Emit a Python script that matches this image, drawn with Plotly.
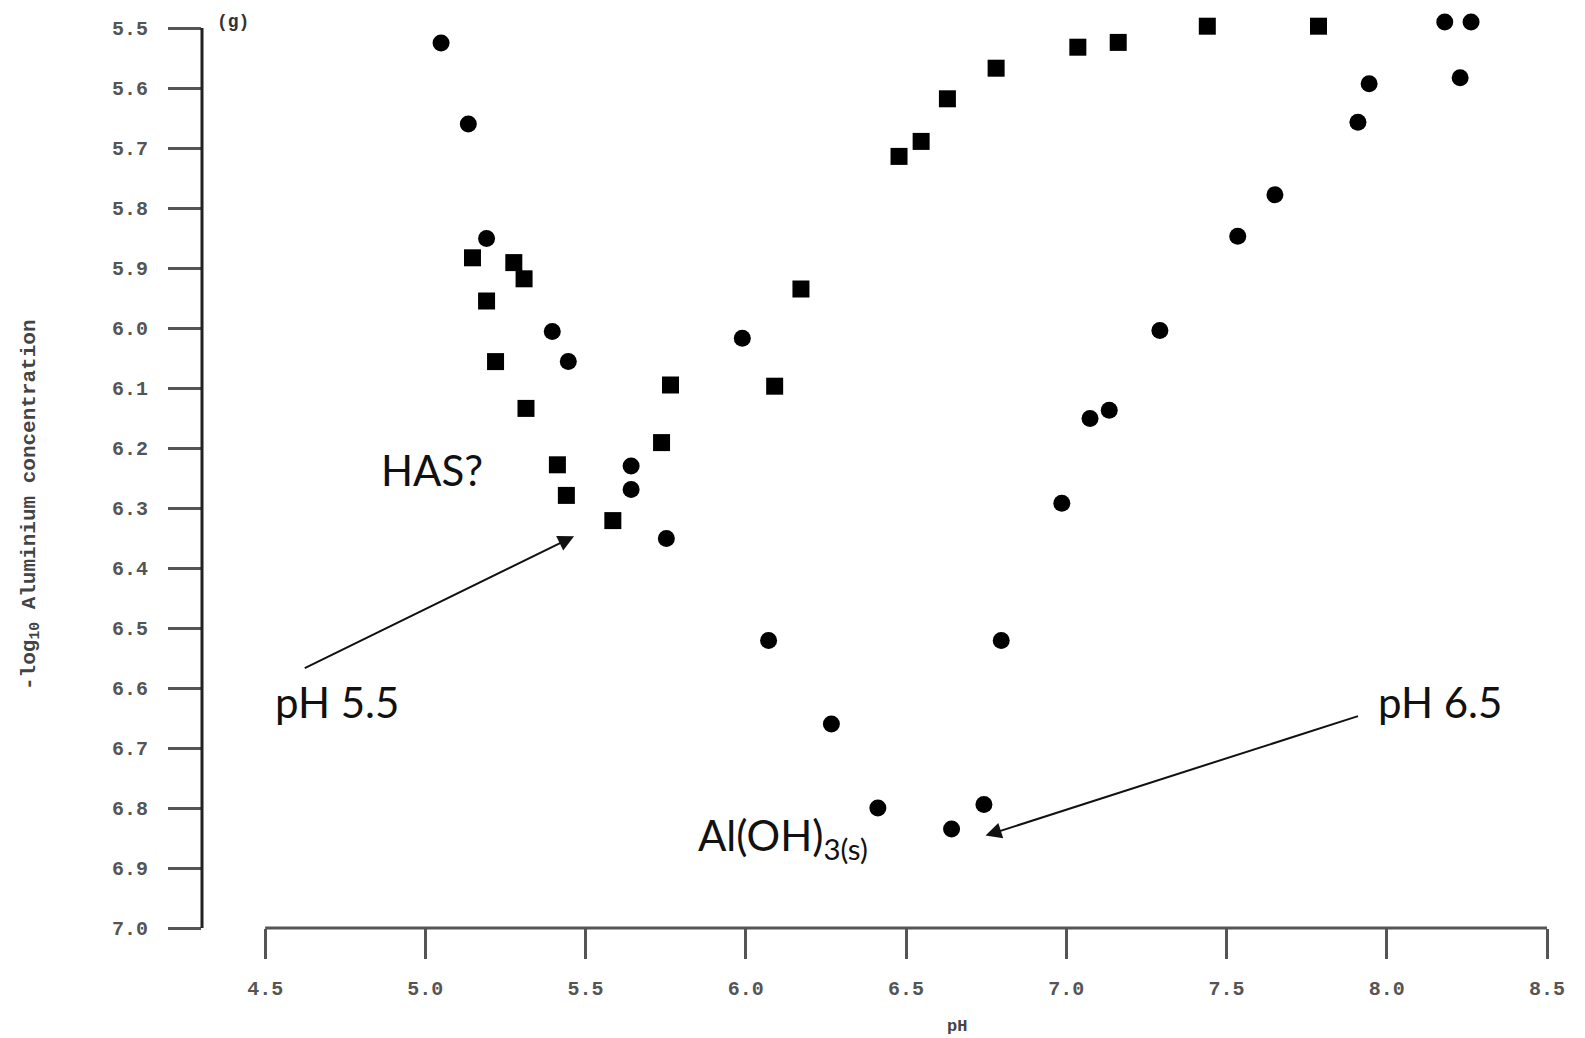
import plotly.graph_objects as go

# Series
square_ph = [5.147, 5.191, 5.219, 5.276, 5.308, 5.314, 5.412, 5.440, 5.585, 5.737, 5.765,
             6.090, 6.172, 6.478, 6.547, 6.629, 6.781, 7.036, 7.162, 7.440, 7.787]
square_al = [5.883, 5.955, 6.056, 5.891, 5.918, 6.134, 6.228, 6.279, 6.321, 6.191, 6.095,
             6.097, 5.935, 5.714, 5.689, 5.618, 5.567, 5.532, 5.524, 5.497, 5.497]

circle_ph = [5.049, 5.134, 5.191, 5.396, 5.446, 5.642, 5.642, 5.752, 5.989, 6.071, 6.267,
             6.412, 6.642, 6.743, 6.797, 6.986, 7.074, 7.134, 7.292, 7.535, 7.651, 7.910,
             7.945, 8.181, 8.263, 8.229]
circle_al = [5.525, 5.660, 5.851, 6.006, 6.056, 6.230, 6.269, 6.351, 6.017, 6.521, 6.660,
             6.800, 6.835, 6.794, 6.521, 6.292, 6.151, 6.137, 6.004, 5.847, 5.778, 5.657,
             5.593, 5.490, 5.490, 5.583]

x_ticks = [4.5, 5.0, 5.5, 6.0, 6.5, 7.0, 7.5, 8.0, 8.5]
x_ticktext = ["4.5", "5.0", "5.5", "6.0", "6.5", "7.0", "7.5", "8.0", "8.5"]
y_ticks = [5.5, 5.6, 5.7, 5.8, 5.9, 6.0, 6.1, 6.2, 6.3, 6.4, 6.5, 6.6, 6.7, 6.8, 6.9, 7.0]
y_ticktext = ["5.5", "5.6", "5.7", "5.8", "5.9", "6.0", "6.1", "6.2", "6.3", "6.4", "6.5",
              "6.6", "6.7", "6.8", "6.9", "7.0"]

tick_font = dict(family="Liberation Mono", size=20, color="#555555", weight="bold")
anno_font = dict(family="Lato", size=42, color="#111111")

fig = go.Figure()
fig.add_trace(go.Scatter(x=square_ph, y=square_al, mode="markers", cliponaxis=False,
                         marker=dict(symbol="square", size=17, color="black"),
                         showlegend=False))
fig.add_trace(go.Scatter(x=circle_ph, y=circle_al, mode="markers", cliponaxis=False,
                         marker=dict(symbol="circle", size=17, color="black"),
                         showlegend=False))

# axis lines (offset style: x axis starts at pH 4.5, y axis spans 5.5-7.0)
fig.add_shape(type="line", xref="x", yref="paper", x0=4.5, x1=8.5, y0=0, y1=0,
              line=dict(color="#555555", width=3))
fig.add_shape(type="line", xref="paper", yref="y", x0=0, x1=0, y0=5.5, y1=7.0,
              line=dict(color="#222222", width=3))

# text annotations
fig.add_annotation(x=5.022, y=6.236, xref="x", yref="y", text="HAS?", showarrow=False,
                   font=anno_font)
fig.add_annotation(x=4.723, y=6.624, xref="x", yref="y", text="pH 5.5", showarrow=False,
                   font=anno_font)
fig.add_annotation(x=8.167, y=6.624, xref="x", yref="y", text="pH 6.5", showarrow=False,
                   font=anno_font)
fig.add_annotation(x=5.843, y=6.85, xref="x", yref="y", xanchor="left",
                   text="Al(OH)<sub>3(s)</sub>", showarrow=False, font=anno_font)
fig.add_annotation(x=4.399, y=5.49, xref="x", yref="y", text="(g)", showarrow=False,
                   font=dict(family="Liberation Mono", size=18, color="#333333",
                             weight="bold"))

# axis titles
fig.add_annotation(x=6.66, y=0, xref="x", yref="paper", yshift=-98, text="pH",
                   showarrow=False, yanchor="middle",
                   font=dict(family="Liberation Mono", size=17, color="#444444",
                             weight="bold"))
fig.add_annotation(x=0, y=6.295, xref="paper", yref="y", xshift=-172, textangle=-90,
                   text="-log<sub>10</sub> Aluminium concentration", showarrow=False,
                   xanchor="center", yanchor="middle",
                   font=dict(family="Liberation Mono", size=21, color="#444444",
                             weight="bold"))

# arrows
fig.add_annotation(x=5.464, y=6.347, ax=4.619, ay=6.568, xref="x", yref="y",
                   axref="x", ayref="y", text="", showarrow=True, arrowhead=2,
                   arrowsize=1.6, arrowwidth=2, arrowcolor="#111111")
fig.add_annotation(x=6.748, y=6.846, ax=7.915, ay=6.646, xref="x", yref="y",
                   axref="x", ayref="y", text="", showarrow=True, arrowhead=2,
                   arrowsize=1.6, arrowwidth=2, arrowcolor="#111111")

fig.update_layout(
    width=1577, height=1030,
    margin=dict(l=194, r=38, t=2, b=110),
    paper_bgcolor="white", plot_bgcolor="white",
    xaxis=dict(range=[4.303, 8.5], tickvals=x_ticks, ticktext=x_ticktext,
               showgrid=False, zeroline=False, showline=False,
               ticks="outside", ticklen=30, tickwidth=3, tickcolor="#555555",
               tickfont=tick_font, ticklabelstandoff=12),
    yaxis=dict(range=[7.0, 5.47], tickvals=y_ticks, ticktext=y_ticktext,
               showgrid=False, zeroline=False, showline=False,
               ticks="outside", ticklen=33, tickwidth=3, tickcolor="#555555",
               tickfont=tick_font, ticklabelstandoff=16),
)

fig.write_html("out.html")
